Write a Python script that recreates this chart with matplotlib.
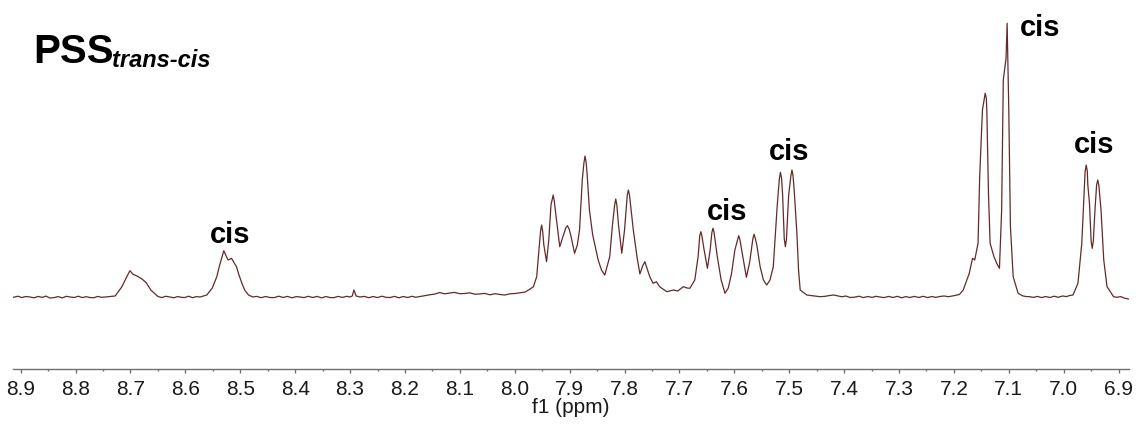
import matplotlib.pyplot as plt
import numpy as np
from matplotlib.ticker import MultipleLocator

plt.rcParams['font.family'] = ['Liberation Sans', 'DejaVu Sans']

# 1H NMR trace: chemical shift (ppm) and intensity (arb. units)
shift = [8.915, 8.883, 8.847, 8.810, 8.774, 8.746, 8.728, 8.716, 8.707, 8.701,
         8.696, 8.686, 8.679, 8.671, 8.663, 8.650, 8.628, 8.601, 8.573, 8.561,
         8.551, 8.543, 8.537, 8.530, 8.525, 8.522, 8.516, 8.512, 8.507, 8.503,
         8.497, 8.492, 8.485, 8.477, 8.446, 8.391, 8.337, 8.300, 8.296, 8.293,
         8.289, 8.282, 8.227, 8.173, 8.145, 8.118, 8.091, 8.064, 8.027, 8.000,
         7.981, 7.972, 7.966, 7.960, 7.956, 7.951, 7.947, 7.942, 7.938, 7.934,
         7.930, 7.925, 7.918, 7.913, 7.904, 7.898, 7.891, 7.886, 7.882, 7.877,
         7.872, 7.868, 7.864, 7.858, 7.848, 7.842, 7.836, 7.827, 7.822, 7.816,
         7.811, 7.805, 7.800, 7.793, 7.789, 7.784, 7.777, 7.772, 7.767, 7.763,
         7.758, 7.754, 7.748, 7.742, 7.736, 7.723, 7.711, 7.703, 7.693, 7.686,
         7.681, 7.672, 7.666, 7.661, 7.655, 7.649, 7.644, 7.639, 7.635, 7.631,
         7.624, 7.617, 7.611, 7.605, 7.599, 7.592, 7.586, 7.578, 7.572, 7.564,
         7.559, 7.553, 7.547, 7.541, 7.535, 7.529, 7.522, 7.516, 7.512, 7.507,
         7.501, 7.495, 7.491, 7.486, 7.483, 7.480, 7.468, 7.444, 7.426, 7.411,
         7.389, 7.335, 7.280, 7.226, 7.198, 7.183, 7.172, 7.166, 7.162, 7.156,
         7.153, 7.148, 7.143, 7.140, 7.137, 7.134, 7.127, 7.122, 7.117, 7.113,
         7.110, 7.105, 7.103, 7.100, 7.097, 7.092, 7.083, 7.062, 7.025, 6.983,
         6.974, 6.967, 6.963, 6.959, 6.956, 6.953, 6.948, 6.943, 6.938, 6.932,
         6.927, 6.921, 6.909, 6.882]
intensity = [-0.5, 0, -1, 0, -0.5, 0, 1, 10, 20, 26.3,
             23, 20.3, 18, 14, 7, 0.5, 0, -0.5, 0, 2,
             9, 20, 33, 46.3, 40, 37, 38.7, 35, 30.3, 23,
             13.7, 7, 2, 0, -0.5, 0, -0.5, 0, 1, 7,
             1, 0, -0.5, 0.5, 3, 4, 3.5, 3, 2.5, 3.5,
             5, 8, 10.3, 20.3, 47, 72, 52, 35.3, 57, 92,
             102, 82, 50.3, 59, 71.3, 62, 43.7, 52, 67, 117,
             141, 122, 87, 62, 37, 27, 22, 40.3, 72, 98,
             72, 43.7, 67, 107, 92, 67, 39, 23, 31, 35.3,
             27, 20.3, 13.7, 15.3, 10.3, 5.3, 7, 6, 10.3, 9,
             8.7, 17, 40.3, 65.3, 47, 28.7, 47, 68.7, 57, 40.3,
             17, 3.7, 9, 23.7, 47, 61.3, 45, 19.7, 35, 62.7,
             52, 30.3, 17, 12, 17, 30.3, 90.3, 124.7, 102, 50.3,
             102, 127, 107, 63.7, 27, 7, 2, 0.3, 1.5, 1,
             -0.5, 0, -0.5, 0.5, 1.5, 7, 23.7, 38.7, 37, 53.7,
             120.3, 187, 203.7, 187, 103.7, 53.7, 40.3, 33.7, 28.7, 87,
             217, 238.7, 273.7, 187, 70.3, 20.3, 3.7, 0.3, -0.5, 2,
             13.7, 53.7, 102, 132, 112, 93.7, 48.7, 87, 117, 87,
             37, 10.3, 0.3, -2]

# extra points read near peak tops / valleys (rounded shapes)
top_shift = [7.953, 7.949, 7.932, 7.928, 7.907, 7.901, 7.874, 7.870,
             7.818, 7.814, 7.795, 7.791, 7.663, 7.659, 7.641, 7.637,
             7.594, 7.590, 7.566, 7.562, 7.518, 7.514, 7.509, 7.505,
             7.497, 7.493, 7.145, 7.141, 6.961, 6.957, 6.950, 6.946,
             6.940, 6.936]
top_intensity = [66, 65, 97, 96, 69, 68, 134, 135,
                 92, 92, 102, 102, 61, 61, 64, 65,
                 57, 58, 59, 59, 118, 119, 58, 58,
                 121, 121, 197, 199, 125, 126, 56, 56,
                 112, 112]

# baseline noise read along the flat stretches
noise_shift = [8.905, 8.898, 8.891, 8.876, 8.868, 8.861, 8.854, 8.840, 8.832, 8.824,
               8.817, 8.802, 8.795, 8.788, 8.781, 8.767, 8.760, 8.753,
               8.643, 8.636, 8.621, 8.614, 8.607, 8.594, 8.587, 8.580,
               8.470, 8.462, 8.454, 8.438, 8.430, 8.422, 8.414, 8.406, 8.398, 8.384,
               8.376, 8.368, 8.360, 8.352, 8.344, 8.330, 8.322, 8.314, 8.306,
               8.274, 8.266, 8.258, 8.250, 8.242, 8.234, 8.219, 8.211, 8.203, 8.195,
               8.187, 8.180, 8.165, 8.155, 8.137, 8.128, 8.110, 8.100, 8.082, 8.073,
               8.055, 8.045, 8.036, 8.018, 8.009, 7.990,
               7.436, 7.419, 7.404, 7.397, 7.381, 7.373, 7.365, 7.357, 7.349, 7.342,
               7.327, 7.319, 7.311, 7.303, 7.295, 7.288, 7.272, 7.264, 7.256, 7.248,
               7.240, 7.233, 7.218, 7.210, 7.190,
               7.075, 7.069, 7.055, 7.048, 7.040, 7.033, 7.017, 7.010, 7.002, 6.995,
               6.989, 6.903, 6.896, 6.889]
noise_intensity = [0.8, -0.6, 0.5, -0.8, 0.6, -0.4, 0.9, -0.7, 0.4, -0.9,
                   0.7, -0.5, 0.8, -0.6, 0.3, -0.8, 0.6, -0.3,
                   -0.6, 0.7, -0.8, 0.5, -0.4, 0.8, -0.7, 0.4,
                   0.6, -0.7, 0.5, -0.6, 0.8, -0.5, 0.6, -0.8, 0.4, -0.6,
                   0.7, -0.5, 0.6, -0.9, 0.5, -0.7, 0.6, -0.4, 0.7,
                   0.6, -0.7, 0.5, -0.6, 0.8, -0.4, 0.6, -0.8, 0.5, -0.5,
                   0.7, -0.3, 1.2, 2.2, 4.5, 3.2, 4.6, 3.3, 4.2, 2.8,
                   3.6, 2.2, 3.3, 2.0, 3.2, 4.2,
                   0.6, 2.0, 0.2, 1.0, -0.2, 0.8, -0.6, 0.5, -0.4, 0.7,
                   -0.6, 0.6, -0.5, 0.7, -0.8, 0.4, 0.6, -0.5, 0.7, -0.6,
                   0.5, -0.4, 1.0, 0.3, 2.5,
                   1.2, 0.5, -0.4, 0.6, -0.6, 0.5, 0.8, -0.3, 1.0, 0.4,
                   1.5, -0.3, 0.4, -1.2]

# "cis" annotations (ppm, intensity of the text baseline)
cis_shift = [8.518, 7.613, 7.4995, 7.0425, 6.945]
cis_level = [54, 77, 137, 261, 144]

x_all = np.concatenate([shift, top_shift, noise_shift])
y_all = np.concatenate([intensity, top_intensity, noise_intensity])
order = np.argsort(-x_all)

fig = plt.figure(figsize=(11.38, 4.28), dpi=100)
ax = fig.add_axes([12.7 / 1138, 1 - 369 / 428, (1129 - 12.7) / 1138, 369 / 428])

ax.plot(x_all[order], y_all[order], color='#642a2a', lw=0.9)

for x, y in zip(cis_shift, cis_level):
    ax.text(x, y, 'cis', ha='center', va='baseline', fontsize=21,
            fontweight='bold', color='black')

ax.set_xlim(8.9146, 6.881)
ax.set_ylim(-72, 297)

for s in ['left', 'top', 'right']:
    ax.spines[s].set_visible(False)
ax.spines['bottom'].set_color('#707070')
ax.spines['bottom'].set_linewidth(1.0)
ax.set_yticks([])
ax.xaxis.set_major_locator(MultipleLocator(0.1))
ax.xaxis.set_minor_locator(MultipleLocator(0.05))
ax.xaxis.set_major_formatter(lambda v, p: f'{v:.1f}')
ax.tick_params(axis='x', which='major', length=3, width=1, color='#707070',
               labelsize=15, pad=5, labelcolor='#1a1a1a')
ax.tick_params(axis='x', which='minor', length=1.5, width=1, color='#707070')
ax.set_xlabel('f1 (ppm)', fontsize=15, labelpad=-1, color='#1a1a1a')

fig.text(33 / 1138, 1 - 63 / 428, 'PSS', fontsize=29, fontweight='bold',
         va='baseline', ha='left')
fig.text(112 / 1138, 1 - 67 / 428, 'trans-cis', fontsize=17, fontweight='bold',
         style='italic', va='baseline', ha='left')

fig.savefig('out.png', dpi=100)
